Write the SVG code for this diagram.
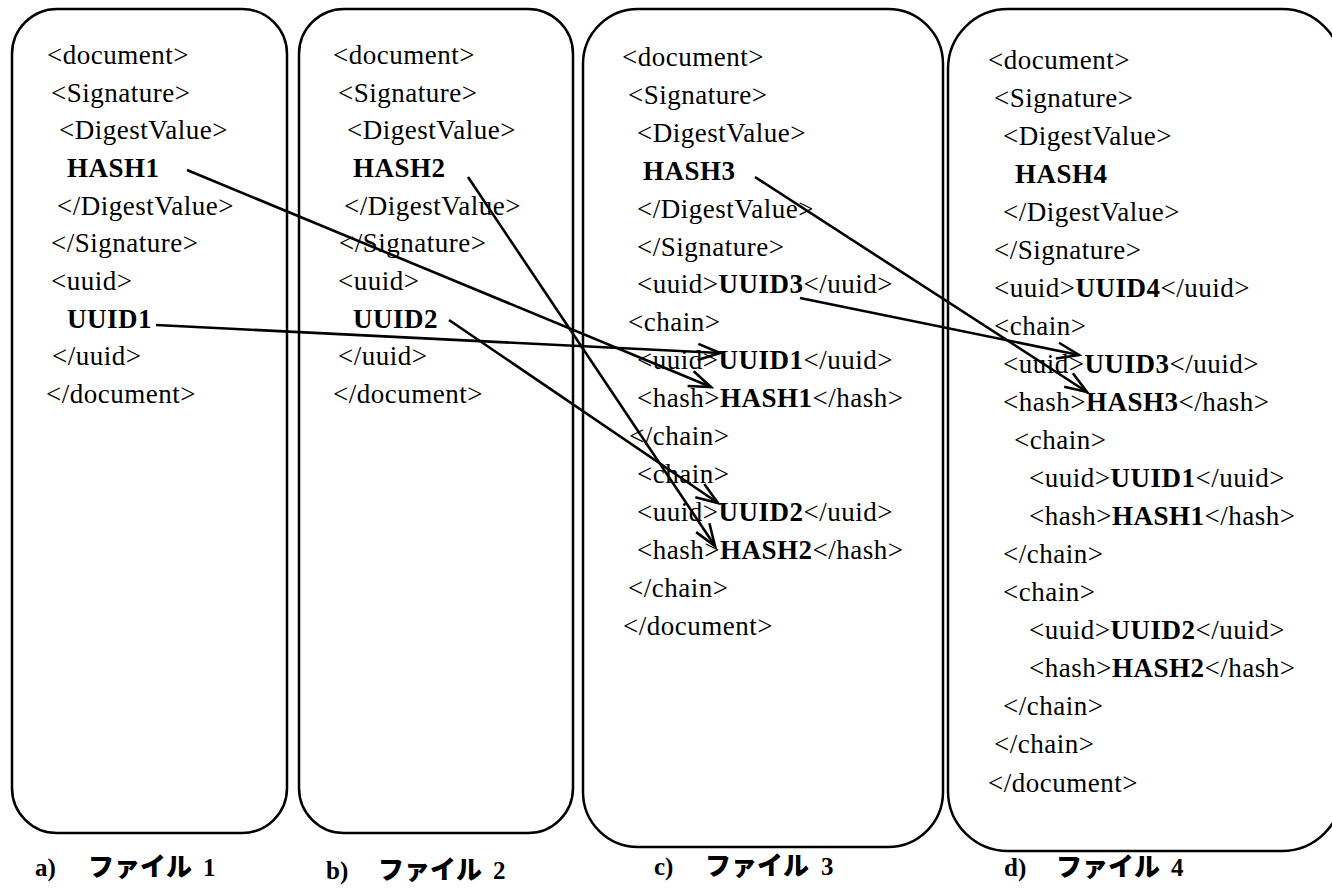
<svg xmlns="http://www.w3.org/2000/svg" width="1332" height="895" viewBox="0 0 1332 895">
  <style>
    .t { font-family: "Liberation Serif", "Times New Roman", serif; font-size: 27px; letter-spacing: 0.5px; fill: #000; }
    .b { font-weight: bold; }
    .box { fill: none; stroke: #000; stroke-width: 2.5; }
    .conn { fill: none; stroke: #000; stroke-width: 2.6; marker-end: url(#open); }
    .cap { font-family: "Liberation Serif", "Times New Roman", serif; font-size: 25px; font-weight: bold; fill: #000; }
    .kana { font-family: "Noto Sans CJK JP", "Noto Sans CJK SC", sans-serif; font-size: 26px; font-weight: 900; fill: #000; }
  </style>
  <defs>
    <marker id="open" markerUnits="userSpaceOnUse" markerWidth="26" markerHeight="20" refX="23" refY="10" orient="auto">
      <path d="M1,2 L23,10 L1,18" fill="none" stroke="#000" stroke-width="2.6"/>
    </marker>
  </defs>
  <rect width="1332" height="895" fill="#fff"/>

  <!-- file 1 -->
  <g id="file1">
    <rect class="box" x="12" y="9" width="275" height="824" rx="45" ry="45"/>
    <text class="t" x="47" y="64">&lt;document&gt;</text>
    <text class="t" x="51" y="101.5">&lt;Signature&gt;</text>
    <text class="t" x="59" y="139">&lt;DigestValue&gt;</text>
    <text class="t b" x="67" y="177">HASH1</text>
    <text class="t" x="57" y="214.5">&lt;/DigestValue&gt;</text>
    <text class="t" x="51" y="252">&lt;/Signature&gt;</text>
    <text class="t" x="51" y="290">&lt;uuid&gt;</text>
    <text class="t b" x="67" y="328">UUID1</text>
    <text class="t" x="52" y="365">&lt;/uuid&gt;</text>
    <text class="t" x="46" y="403">&lt;/document&gt;</text>
  </g>

  <!-- file 2 -->
  <g id="file2">
    <rect class="box" x="299" y="9" width="274" height="824" rx="45" ry="45"/>
    <text class="t" x="333" y="64">&lt;document&gt;</text>
    <text class="t" x="338" y="101.5">&lt;Signature&gt;</text>
    <text class="t" x="347" y="139">&lt;DigestValue&gt;</text>
    <text class="t b" x="353" y="177">HASH2</text>
    <text class="t" x="344" y="214.5">&lt;/DigestValue&gt;</text>
    <text class="t" x="339" y="252">&lt;/Signature&gt;</text>
    <text class="t" x="338" y="290">&lt;uuid&gt;</text>
    <text class="t b" x="353" y="328">UUID2</text>
    <text class="t" x="338" y="365">&lt;/uuid&gt;</text>
    <text class="t" x="333" y="403">&lt;/document&gt;</text>
  </g>

  <!-- file 3 -->
  <g id="file3">
    <rect class="box" x="583" y="9" width="360" height="838" rx="55" ry="55"/>
    <text class="t" x="622" y="66">&lt;document&gt;</text>
    <text class="t" x="628" y="104">&lt;Signature&gt;</text>
    <text class="t" x="637" y="142">&lt;DigestValue&gt;</text>
    <text class="t b" x="643" y="180">HASH3</text>
    <text class="t" x="637" y="218">&lt;/DigestValue&gt;</text>
    <text class="t" x="637" y="256">&lt;/Signature&gt;</text>
    <text class="t" x="637" y="293">&lt;uuid&gt;<tspan class="b">UUID3</tspan>&lt;/uuid&gt;</text>
    <text class="t" x="628" y="331">&lt;chain&gt;</text>
    <text class="t" x="637" y="369">&lt;uuid&gt;<tspan class="b">UUID1</tspan>&lt;/uuid&gt;</text>
    <text class="t" x="637" y="407">&lt;hash&gt;<tspan class="b">HASH1</tspan>&lt;/hash&gt;</text>
    <text class="t" x="629" y="445">&lt;/chain&gt;</text>
    <text class="t" x="637" y="483">&lt;chain&gt;</text>
    <text class="t" x="637" y="521">&lt;uuid&gt;<tspan class="b">UUID2</tspan>&lt;/uuid&gt;</text>
    <text class="t" x="637" y="559">&lt;hash&gt;<tspan class="b">HASH2</tspan>&lt;/hash&gt;</text>
    <text class="t" x="628" y="597">&lt;/chain&gt;</text>
    <text class="t" x="623" y="635">&lt;/document&gt;</text>
  </g>

  <!-- file 4 -->
  <g id="file4">
    <rect class="box" x="948" y="9" width="394" height="842" rx="60" ry="60"/>
    <text class="t" x="988" y="68.5">&lt;document&gt;</text>
    <text class="t" x="994" y="106.5">&lt;Signature&gt;</text>
    <text class="t" x="1003" y="144.5">&lt;DigestValue&gt;</text>
    <text class="t b" x="1015" y="182.5">HASH4</text>
    <text class="t" x="1003" y="221">&lt;/DigestValue&gt;</text>
    <text class="t" x="994" y="259">&lt;/Signature&gt;</text>
    <text class="t" x="994" y="297">&lt;uuid&gt;<tspan class="b">UUID4</tspan>&lt;/uuid&gt;</text>
    <text class="t" x="994" y="335">&lt;chain&gt;</text>
    <text class="t" x="1003" y="373">&lt;uuid&gt;<tspan class="b">UUID3</tspan>&lt;/uuid&gt;</text>
    <text class="t" x="1003" y="411">&lt;hash&gt;<tspan class="b">HASH3</tspan>&lt;/hash&gt;</text>
    <text class="t" x="1014" y="449">&lt;chain&gt;</text>
    <text class="t" x="1029" y="487">&lt;uuid&gt;<tspan class="b">UUID1</tspan>&lt;/uuid&gt;</text>
    <text class="t" x="1029" y="525">&lt;hash&gt;<tspan class="b">HASH1</tspan>&lt;/hash&gt;</text>
    <text class="t" x="1003" y="563">&lt;/chain&gt;</text>
    <text class="t" x="1003" y="601">&lt;chain&gt;</text>
    <text class="t" x="1029" y="639">&lt;uuid&gt;<tspan class="b">UUID2</tspan>&lt;/uuid&gt;</text>
    <text class="t" x="1029" y="677">&lt;hash&gt;<tspan class="b">HASH2</tspan>&lt;/hash&gt;</text>
    <text class="t" x="1003" y="715">&lt;/chain&gt;</text>
    <text class="t" x="994" y="753">&lt;/chain&gt;</text>
    <text class="t" x="988" y="792">&lt;/document&gt;</text>
  </g>

  <!-- references from each value to its copy in the later file -->
  <g id="connectors">
    <line class="conn" x1="187" y1="170" x2="711" y2="387"/>
    <line class="conn" x1="156" y1="325" x2="720" y2="353"/>
    <line class="conn" x1="468" y1="177" x2="715" y2="546"/>
    <line class="conn" x1="449" y1="320" x2="718" y2="503"/>
    <line class="conn" x1="755" y1="177" x2="1087" y2="392"/>
    <line class="conn" x1="800" y1="298" x2="1079" y2="355"/>
  </g>

  <!-- captions -->
  <g id="captions">
    <text class="cap" x="35" y="876">a)</text>
    <text class="kana" x="88" y="876">ファイル</text>
    <text class="cap" x="203" y="876">1</text>
    <text class="cap" x="326" y="879">b)</text>
    <text class="kana" x="378" y="879">ファイル</text>
    <text class="cap" x="493" y="879">2</text>
    <text class="cap" x="654" y="875">c)</text>
    <text class="kana" x="705" y="875">ファイル</text>
    <text class="cap" x="821" y="875">3</text>
    <text class="cap" x="1004" y="876">d)</text>
    <text class="kana" x="1056" y="876">ファイル</text>
    <text class="cap" x="1171" y="876">4</text>
  </g>
</svg>
